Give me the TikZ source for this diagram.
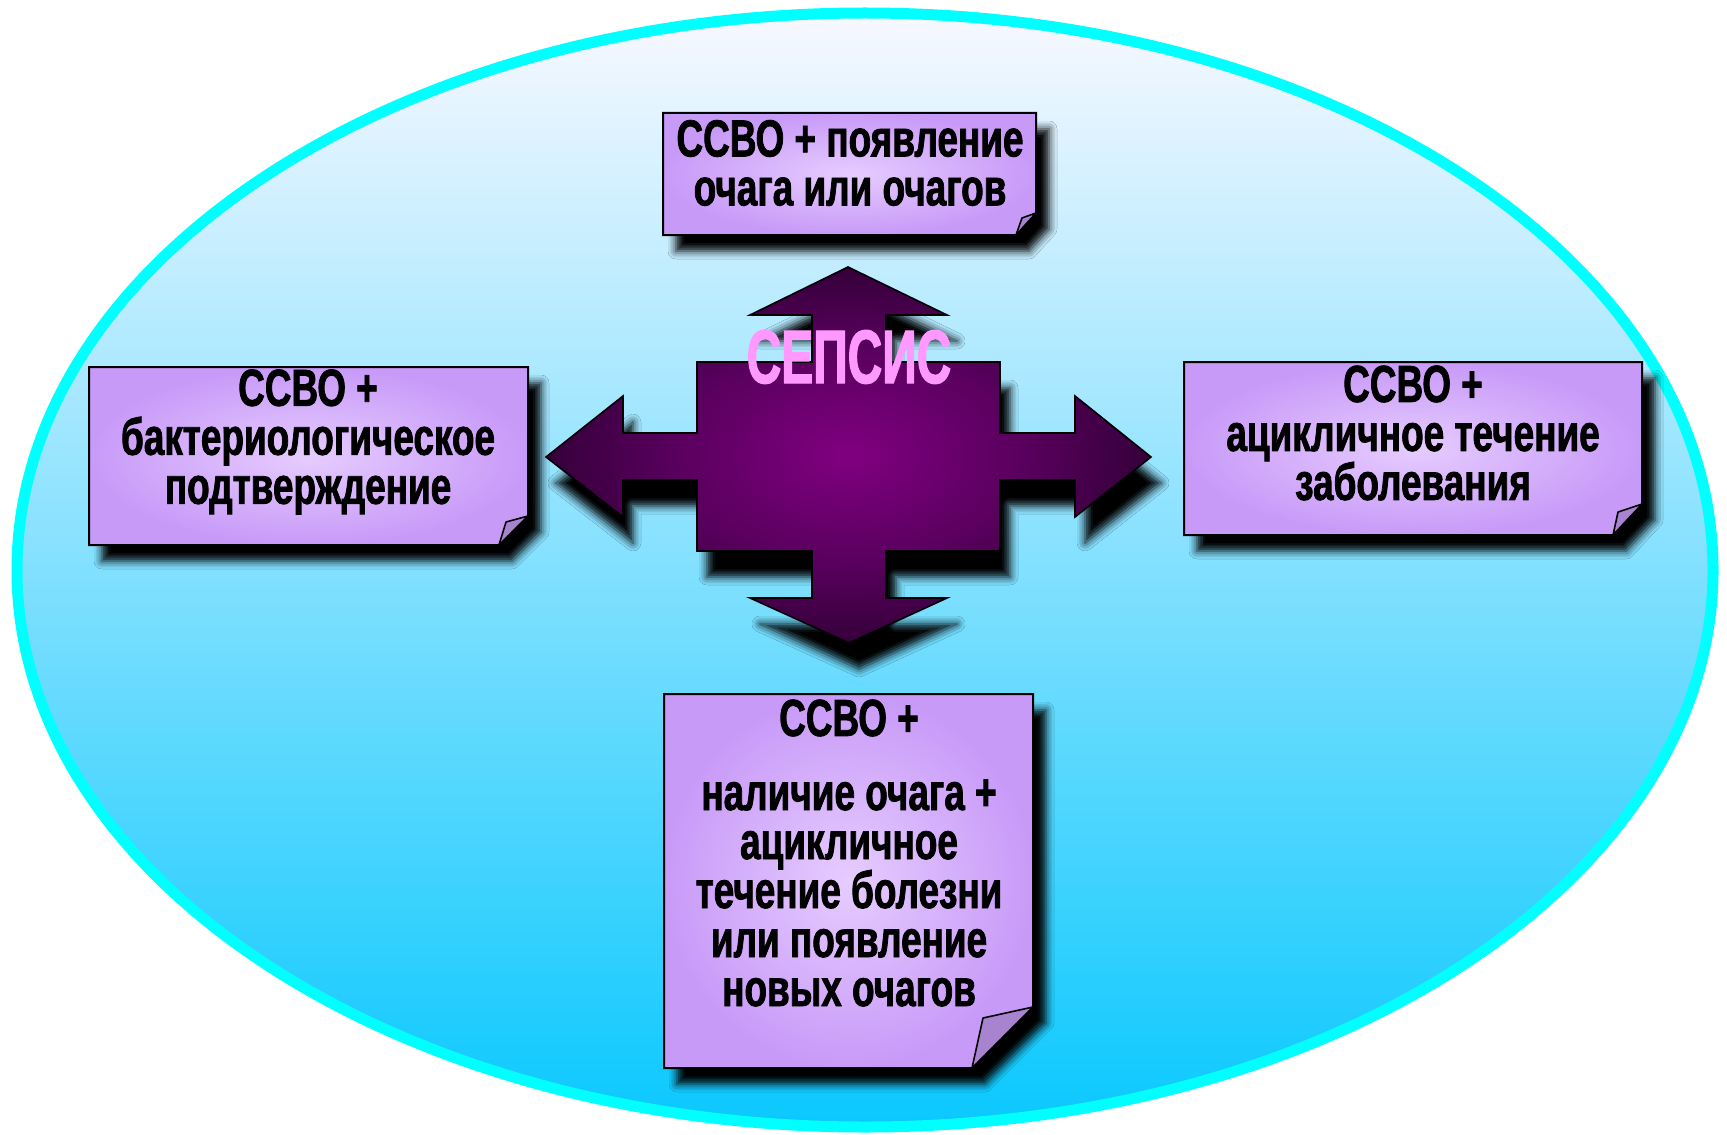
\documentclass[tikz,border=0pt]{standalone}
\usepackage{fontspec}
\usetikzlibrary{shadows.blur}
\newfontfamily\boxfont{Liberation Sans}[FakeStretch=0.71,FakeBold=1.5]
\newfontfamily\sepsfont{Liberation Sans}[FakeStretch=0.63,FakeBold=1.5]
\definecolor{pcenter}{RGB}{128,0,128}
\definecolor{pmid}{RGB}{90,0,95}
\definecolor{pdark}{RGB}{36,0,40}
\pgfdeclareradialshading{arrowshade}{\pgfpoint{0bp}{0bp}}{color(0bp)=(pcenter); color(14bp)=(pmid); color(30bp)=(pdark); color(50bp)=(pdark)}
\definecolor{lavin}{RGB}{230,204,255}
\definecolor{lavout}{RGB}{200,154,248}
\definecolor{foldc}{RGB}{168,132,208}
\definecolor{pinktxt}{RGB}{255,153,255}
\definecolor{bgtop}{RGB}{248,248,255}
\definecolor{bgbot}{RGB}{10,200,254}
\definecolor{rimc}{RGB}{0,255,255}
\tikzset{
  notebox/.style={draw=black, line width=1pt, inner color=lavin, outer color=lavout,
    blur shadow={shadow xshift=6.5pt, shadow yshift=-8pt, shadow blur radius=4pt, shadow opacity=100}},
  foldtri/.style={draw=black, line width=0.8pt, fill=foldc, line join=round},
  notetext/.style={font=\boxfont\bfseries\fontsize{26}{24.5}\selectfont, align=center, text=black, inner sep=0pt},
  sepstext/.style={font=\sepsfont\bfseries\fontsize{38}{38}\selectfont, text=pinktxt, inner sep=0pt},
  crossarrow/.style={shading=arrowshade, draw=black, line width=0.8pt, line join=miter,
    blur shadow={shadow xshift=5pt, shadow yshift=-13pt, shadow blur radius=4pt, shadow opacity=100}},
  rim/.style={draw=rimc, line width=5.5pt, top color=bgtop, bottom color=bgbot}
}
\begin{document}
\begin{tikzpicture}[x=0.5pt,y=-0.5pt]
\useasboundingbox[fill=white] (0,0) rectangle (1727,1134);
% background ellipse
\path[rim] (865,570) ellipse [x radius=424pt, y radius=278.5pt];
% top note
\shade[notebox] (663,113) -- (1036,113) -- (1036,213) -- (1016,235) -- (663,235) -- cycle;
\filldraw[foldtri] (1036,213) -- (1022,218) -- (1016,235) -- cycle;
% left note
\shade[notebox] (89,367) -- (528,367) -- (528,516) -- (499,545) -- (89,545) -- cycle;
\filldraw[foldtri] (528,516) -- (506,522) -- (499,545) -- cycle;
% right note
\shade[notebox] (1184,362) -- (1642,362) -- (1642,504) -- (1613,535) -- (1184,535) -- cycle;
\filldraw[foldtri] (1642,504) -- (1618,512) -- (1613,535) -- cycle;
% bottom note
\shade[notebox] (664,694) -- (1033,694) -- (1033,1007) -- (972,1068) -- (664,1068) -- cycle;
\filldraw[foldtri] (1033,1007) -- (983,1018) -- (972,1068) -- cycle;
% central cross arrow
\shade[crossarrow] (848,267) -- (947,315) -- (886,315) -- (886,362) -- (1000,362) -- (1000,433)
  -- (1075,433) -- (1075,396) -- (1151,457) -- (1075,517) -- (1075,480) -- (1000,480) -- (1000,551)
  -- (886,551) -- (886,598) -- (947,598) -- (849,643) -- (750,598) -- (812,598) -- (812,551)
  -- (697,551) -- (697,480) -- (623,480) -- (623,517) -- (546,457) -- (623,396) -- (623,433)
  -- (697,433) -- (697,362) -- (812,362) -- (812,315) -- (750,315) -- cycle;
% texts
\node[sepstext] (sepsis) at (849,357) {СЕПСИС};
\node[notetext] (ttop) at (850,163) {ССВО + появление\\очага или очагов};
\node[notetext] (tleft) at (308,442) {ССВО +\\бактериологическое\\подтверждение};
\node[notetext] (tright) at (1413,433) {ССВО +\\ацикличное течение\\заболевания};
\node[notetext] (tbot1) at (849,718) {ССВО +};
\node[notetext] (tbot2) at (849,893) {наличие очага +\\ацикличное\\течение болезни\\или появление\\новых очагов};
\end{tikzpicture}
\end{document}
